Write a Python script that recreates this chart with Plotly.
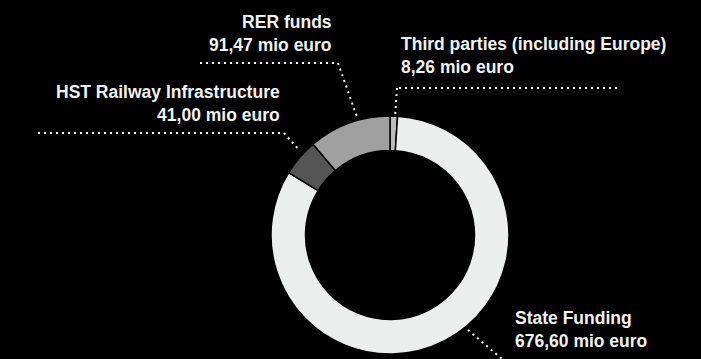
import plotly.graph_objects as go

W, H = 701, 359

labels = ["Third parties (including Europe)", "State Funding", "HST Railway Infrastructure", "RER funds"]
values = [8.26, 676.60, 41.00, 91.47]
value_text = ["8,26 mio euro", "676,60 mio euro", "41,00 mio euro", "91,47 mio euro"]
colors = ["#bcbcbc", "#eceeed", "#555555", "#a0a0a0"]

# donut geometry (pixels)
cx, cy, r = 390, 235, 119

def px(x):
    return x / W

def py(y):
    return 1 - y / H

fig = go.Figure(go.Pie(
    labels=labels,
    values=values,
    marker=dict(colors=colors, line=dict(color="#000000", width=1.5)),
    hole=0.71,
    sort=False,
    direction="clockwise",
    rotation=0,
    textinfo="none",
    hoverinfo="label+value",
    showlegend=False,
    domain=dict(x=[px(cx - r), px(cx + r)], y=[py(cy + r), py(cy - r)]),
))

font = dict(family="Liberation Sans", size=17.5, color="#f2f2f2", weight=700)

# label blocks: (index, x, y_center, anchor)
label_pos = [
    (3, 334, 33.5, "right"),
    (2, 282, 103.5, "right"),
    (0, 399, 55, "left"),
    (1, 513, 329, "left"),
]
for i, x, y, anc in label_pos:
    fig.add_annotation(
        x=px(x), y=py(y), xref="paper", yref="paper",
        text=f"{labels[i]}<br>{value_text[i]}",
        showarrow=False, xanchor=anc, yanchor="middle", align=anc,
        font=font,
    )

# dotted leader lines (pixel polylines)
leaders = [
    [(200, 63), (338, 63), (357, 117)],
    [(38, 133), (284, 133), (300, 151)],
    [(617, 88), (397, 88), (395, 117)],
    [(468, 330), (502, 359)],
]
for pts in leaders:
    for (x0, y0), (x1, y1) in zip(pts[:-1], pts[1:]):
        fig.add_shape(
            type="line", xref="paper", yref="paper",
            x0=px(x0), y0=py(y0), x1=px(x1), y1=py(y1),
            line=dict(color="#ffffff", width=2, dash="2px,4px"),
        )

fig.update_layout(
    width=W, height=H,
    margin=dict(l=0, r=0, t=0, b=0),
    paper_bgcolor="#000000",
    plot_bgcolor="#000000",
)

fig.write_html("out.html")
